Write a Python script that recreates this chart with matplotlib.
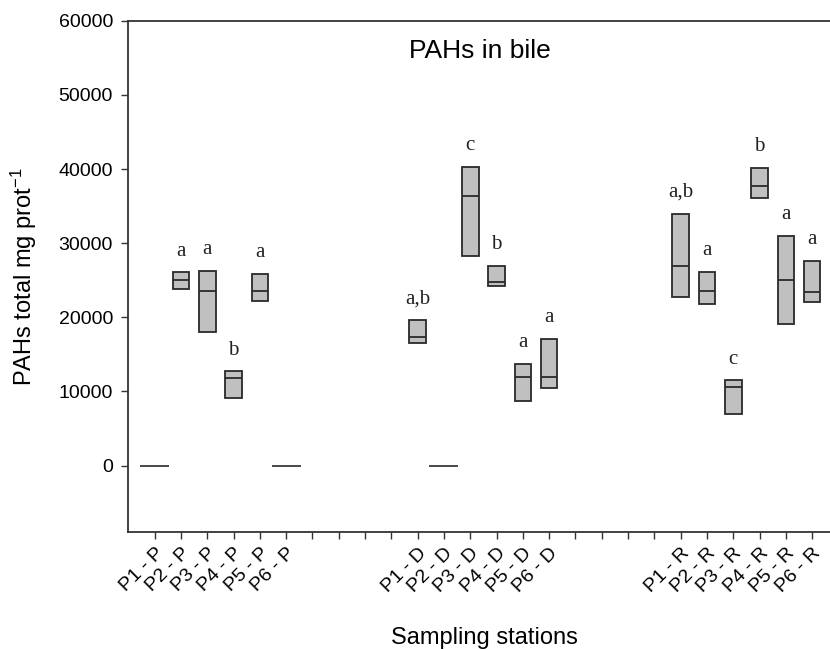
import numpy as np
import matplotlib
matplotlib.use("Agg")
import matplotlib.pyplot as plt

plt.rcParams["font.family"] = ["Liberation Sans", "DejaVu Sans"]
plt.rcParams["mathtext.fontset"] = "custom"
plt.rcParams["mathtext.rm"] = "Liberation Sans"
plt.rcParams["mathtext.it"] = "Liberation Sans:italic"

# stations, grouped by site
groups = ["P", "D", "R"]
points = ["P1", "P2", "P3", "P4", "P5", "P6"]
stations = [f"{p} - {g}" for g in groups for p in points]

# box bottom / median / top (PAHs total mg prot-1)
q_low = [0, 23800, 18050, 9100, 22250, 0,
         16500, 0, 28250, 24250, 8650, 10400,
         22750, 21750, 6900, 36150, 19100, 22000]
q_med = [0, 25100, 23600, 11750, 23600, 0,
         17300, 0, 36350, 24750, 11950, 12000,
         26950, 23550, 10600, 37750, 25100, 23450]
q_high = [0, 26050, 26300, 12700, 25850, 0,
          19600, 0, 40300, 26900, 13750, 17100,
          34000, 26150, 11500, 40150, 31000, 27650]
letters = ["", "a", "a", "b", "a", "",
           "a,b", "", "c", "b", "a", "a",
           "a,b", "a", "c", "b", "a", "a"]

# slot positions: 6 boxes per group, 4 empty slots between groups
pos = np.array([gi * 10 + k + 1 for gi in range(len(groups)) for k in range(len(points))])

fig = plt.figure(figsize=(8.3, 6.49), dpi=100)
ax = fig.add_axes([0.1546, 0.1798, 1.0 - 0.1546, 0.968 - 0.1798])

q_low = np.array(q_low)
q_med = np.array(q_med)
q_high = np.array(q_high)
is_box = q_high > q_low

ax.bar(pos[is_box], (q_high - q_low)[is_box], bottom=q_low[is_box], width=0.63,
       color="#c0c0c0", edgecolor="#2a2a2a", linewidth=1.3, zorder=2)
ax.hlines(q_med[is_box], pos[is_box] - 0.315, pos[is_box] + 0.315,
          color="#2a2a2a", linewidth=1.3, zorder=3)
# stations with nothing detected
ax.hlines(q_med[~is_box], pos[~is_box] - 0.55, pos[~is_box] + 0.55,
          color="#3a3a3a", linewidth=1.3, zorder=3)

for x, top, lab in zip(pos, q_high, letters):
    if lab:
        ax.annotate(lab, (x, top), xytext=(0, 12), textcoords="offset points",
                    ha="center", va="baseline", fontsize=15,
                    family="Liberation Serif", color="#222222")

ax.set_xlim(0, 26.68)
ax.set_ylim(-9000, 60000)
ax.set_yticks(np.arange(0, 60001, 10000))
ax.set_xticks(np.arange(1, 27))
labels = [""] * 26
for p, s in zip(pos, stations):
    labels[p - 1] = s
ax.set_xticklabels(labels, rotation=45, ha="right", va="top", rotation_mode="anchor")

ax.tick_params(axis="both", direction="out", length=5, width=1.0, color="#333333")
ax.tick_params(axis="y", labelsize=14, pad=6)
ax.tick_params(axis="x", labelsize=14, pad=4)

for side in ["left", "top", "bottom"]:
    ax.spines[side].set_linewidth(1.3)
    ax.spines[side].set_color("#333333")
ax.spines["right"].set_visible(False)

ax.text(0.501, 0.9408, "PAHs in bile", transform=ax.transAxes,
        ha="center", va="center", fontsize=19)
ax.set_ylabel("PAHs total mg prot$^{-1}$", fontsize=17)
ax.yaxis.set_label_coords(-0.128, 0.5)
ax.set_xlabel("Sampling stations", fontsize=17, va="top")
ax.xaxis.set_label_coords(0.507, -0.185)

fig.savefig("out.png", dpi=100)
